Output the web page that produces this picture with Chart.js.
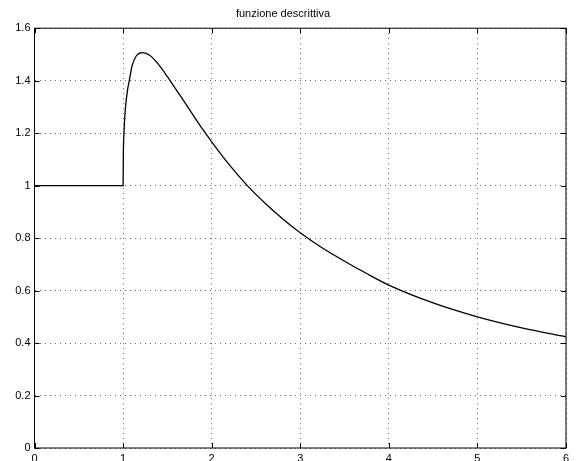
<!DOCTYPE html>
<html>
<head>
<meta charset="utf-8">
<script src="https://cdn.jsdelivr.net/npm/chart.js@4/dist/chart.umd.min.js"></script>
<style>
  html, body { margin: 0; padding: 0; background: #fff; }
</style>
</head>
<body>
<canvas id="fdChart" width="576" height="461"></canvas>
<script>
// valori
const xVals = [0, 0.5, 1.0, 1.003, 1.01, 1.025, 1.05, 1.07, 1.1, 1.15, 1.22, 1.3, 1.4, 1.5, 1.6, 1.7, 1.8, 1.9, 2.0, 2.2, 2.4, 2.6, 2.8, 3.0, 3.25, 3.5, 3.75, 4.0, 4.5, 5.0, 5.5, 6.0];
const yVals = [1, 1, 1, 1.12, 1.2, 1.29, 1.364, 1.4, 1.455, 1.495, 1.507, 1.497, 1.462, 1.415, 1.365, 1.315, 1.264, 1.214, 1.167, 1.079, 1.001, 0.934, 0.874, 0.82, 0.762, 0.712, 0.665, 0.621, 0.553, 0.5, 0.458, 0.424];
const xTicks = [0, 1, 2, 3, 4, 5, 6];
const yTicks = [0, 0.2, 0.4, 0.6, 0.8, 1, 1.2, 1.4, 1.6];
const titleText = 'funzione descrittiva';

const pts = xVals.map((x, i) => ({ x: x, y: yVals[i] }));

// riquadro e tacche interne stile matlab
const boxPlugin = {
    id: 'boxTicks',
    afterDraw(chart) {
        const ctx = chart.ctx, a = chart.chartArea;
        const sx = chart.scales.x, sy = chart.scales.y;
        ctx.save();
        ctx.strokeStyle = '#000';
        ctx.lineWidth = 1;
        ctx.strokeRect(a.left, a.top, a.right - a.left, a.bottom - a.top);
        ctx.beginPath();
        xTicks.forEach(v => {
            const p = Math.round(sx.getPixelForValue(v)) + 0.5;
            ctx.moveTo(p, a.bottom); ctx.lineTo(p, a.bottom - 5);
            ctx.moveTo(p, a.top); ctx.lineTo(p, a.top + 5);
        });
        yTicks.forEach(v => {
            const p = Math.round(sy.getPixelForValue(v)) + 0.5;
            ctx.moveTo(a.left, p); ctx.lineTo(a.left + 5, p);
            ctx.moveTo(a.right, p); ctx.lineTo(a.right - 5, p);
        });
        ctx.stroke();
        ctx.restore();
    }
};

const ctx = document.getElementById('fdChart').getContext('2d');
new Chart(ctx, {
    type: 'scatter',
    data: {
        datasets: [{
            data: pts,
            showLine: true,
            borderColor: '#000',
            borderWidth: 1.3,
            pointRadius: 0,
            cubicInterpolationMode: 'monotone',
            fill: false
        }]
    },
    options: {
        responsive: false,
        animation: false,
        devicePixelRatio: 1,
        layout: { padding: { left: 0, right: 10, top: 0, bottom: 0 } },
        plugins: {
            legend: { display: false },
            tooltip: { enabled: false },
            title: {
                display: true,
                text: titleText,
                color: '#000',
                font: { family: 'Liberation Sans, Arial, sans-serif', size: 11, weight: 'normal' },
                padding: { top: 7, bottom: 8 }
            }
        },
        scales: {
            x: {
                type: 'linear', min: 0, max: 6,
                afterBuildTicks: s => { s.ticks = xTicks.map(v => ({ value: v })); },
                afterFit: s => { s.height = 13; },
                grid: { color: '#666', lineWidth: 1, drawTicks: false },
                border: { display: false, dash: [1, 4] },
                ticks: { color: '#000', padding: 4, maxRotation: 0,
                    font: { family: 'Liberation Sans, Arial, sans-serif', size: 11 } }
            },
            y: {
                min: 0, max: 1.6,
                afterBuildTicks: s => { s.ticks = yTicks.map(v => ({ value: v })); },
                afterFit: s => { s.width = 34.5; },
                grid: { color: '#666', lineWidth: 1, drawTicks: false },
                border: { display: false, dash: [1, 4] },
                ticks: { color: '#000', padding: 4,
                    callback: v => String(Math.round(v * 10) / 10),
                    font: { family: 'Liberation Sans, Arial, sans-serif', size: 11 } }
            }
        }
    },
    plugins: [boxPlugin]
});
</script>
</body>
</html>
